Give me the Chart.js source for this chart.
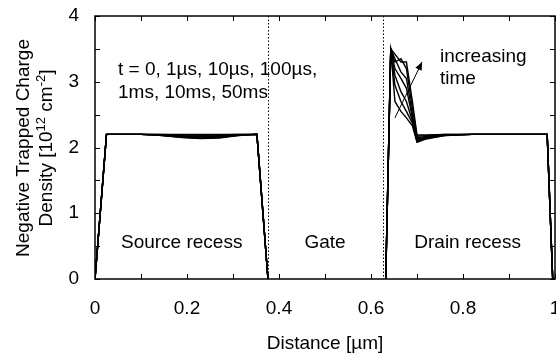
<!DOCTYPE html>
<html>
<head>
<meta charset="utf-8">
<script src="https://cdn.jsdelivr.net/npm/chart.js@4"></script>
<style>
  html, body { margin: 0; padding: 0; background: #fff; }
  #wrap { width: 556px; height: 358px; }
</style>
</head>
<body>
<div id="wrap"><canvas id="trapChart" width="556" height="358"></canvas></div>
<script>
// times of the seven curves (t = 0 ... 50ms)
const timeLabels = ["0", "1µs", "10µs", "100µs", "1ms", "10ms", "50ms"];

// source recess region
const sourceX = [0, 0.025, 0.10, 0.14, 0.19, 0.23, 0.27, 0.31, 0.352, 0.376];
const sourceY = [
  [0, 2.2, 2.2, 2.2,   2.2,   2.2,   2.2,   2.2,   2.2, 0],
  [0, 2.2, 2.2, 2.2,   2.19,  2.185, 2.19,  2.2,   2.2, 0],
  [0, 2.2, 2.2, 2.195, 2.18,  2.17,  2.18,  2.195, 2.2, 0],
  [0, 2.2, 2.2, 2.19,  2.17,  2.16,  2.17,  2.19,  2.2, 0],
  [0, 2.2, 2.2, 2.19,  2.16,  2.15,  2.16,  2.185, 2.2, 0],
  [0, 2.2, 2.2, 2.185, 2.155, 2.14,  2.15,  2.18,  2.2, 0],
  [0, 2.2, 2.2, 2.185, 2.15,  2.135, 2.145, 2.18,  2.2, 0]
];

// drain recess region
const drainX = [0.632, 0.643, 0.652, 0.665, 0.677, 0.69, 0.70, 0.72, 0.76, 0.82, 0.983, 0.995];
const drainY = [
  [0, 3.5, 2.7,  2.55, 2.45, 2.33, 2.08, 2.13, 2.18, 2.2, 2.2, 0],
  [0, 3.5, 2.95, 2.7,  2.55, 2.37, 2.09, 2.14, 2.18, 2.2, 2.2, 0],
  [0, 3.5, 3.1,  2.85, 2.7,  2.4,  2.11, 2.15, 2.19, 2.2, 2.2, 0],
  [0, 3.5, 3.2,  3.05, 2.9,  2.45, 2.13, 2.16, 2.19, 2.2, 2.2, 0],
  [0, 3.5, 3.35, 3.15, 3.05, 2.5,  2.15, 2.17, 2.19, 2.2, 2.2, 0],
  [0, 3.5, 3.3,  3.35, 3.2,  2.6,  2.17, 2.18, 2.2,  2.2, 2.2, 0],
  [0, 3.5, 3.42, 3.3,  3.3,  2.7,  2.19, 2.19, 2.2,  2.2, 2.2, 0]
];

const gateEdges = [0.375, 0.625];
const xTicks = [0, 0.2, 0.4, 0.6, 0.8, 1];
const yTicks = [0, 1, 2, 3, 4];

const FONT = "'Liberation Sans', Arial, Helvetica, sans-serif";

function pts(xs, ys) {
  return xs.map((x, i) => ({ x: x, y: ys[i] }));
}

const datasets = [];
timeLabels.forEach((t, i) => {
  datasets.push({ label: "source " + t, data: pts(sourceX, sourceY[i]) });
  datasets.push({ label: "drain " + t, data: pts(drainX, drainY[i]) });
});
datasets.forEach(d => {
  d.borderColor = "#000";
  d.borderWidth = 1.4;
  d.pointRadius = 0;
  d.tension = 0;
  d.fill = false;
});

// frame, inward ticks, dotted gate lines, labels and arrow
const decorations = {
  id: "decorations",
  afterDatasetsDraw(chart) {
    const ctx = chart.ctx;
    const xs = chart.scales.x, ys = chart.scales.y;
    const a = chart.chartArea;
    ctx.save();

    // gate edges
    ctx.strokeStyle = "#000";
    ctx.lineWidth = 1;
    ctx.setLineDash([1.5, 2]);
    gateEdges.forEach(g => {
      const px = Math.round(xs.getPixelForValue(g)) + 0.5;
      ctx.beginPath();
      ctx.moveTo(px, a.top);
      ctx.lineTo(px, a.bottom);
      ctx.stroke();
    });
    ctx.setLineDash([]);

    // inward ticks
    ctx.lineWidth = 1;
    const tl = 5;
    for (let v = 0; v <= 1.0001; v += 0.1) {
      const px = Math.round(xs.getPixelForValue(v)) + 0.5;
      ctx.beginPath();
      ctx.moveTo(px, a.bottom); ctx.lineTo(px, a.bottom - tl);
      ctx.moveTo(px, a.top); ctx.lineTo(px, a.top + tl);
      ctx.stroke();
    }
    for (let v = 0; v <= 4.0001; v += 0.5) {
      const py = Math.round(ys.getPixelForValue(v)) + 0.5;
      ctx.beginPath();
      ctx.moveTo(a.left, py); ctx.lineTo(a.left + tl, py);
      ctx.moveTo(a.right, py); ctx.lineTo(a.right - tl, py);
      ctx.stroke();
    }

    // frame
    ctx.lineWidth = 1.5;
    ctx.strokeRect(a.left, a.top, a.right - a.left, a.bottom - a.top);

    // text inside plot
    ctx.fillStyle = "#000";
    ctx.font = "19px " + FONT;
    ctx.textBaseline = "alphabetic";
    ctx.textAlign = "left";
    ctx.fillText("t = 0, 1µs, 10µs, 100µs,", 118, 75);
    ctx.fillText("1ms, 10ms, 50ms", 118, 98);
    ctx.fillText("increasing", 440, 62);
    ctx.fillText("time", 440, 84);

    ctx.textAlign = "center";
    const ly = ys.getPixelForValue(0.47);
    ctx.fillText("Source recess", xs.getPixelForValue(0.1885), ly);
    ctx.fillText("Gate", xs.getPixelForValue(0.5), ly);
    ctx.fillText("Drain recess", xs.getPixelForValue(0.81), ly);

    // arrow
    const x0 = xs.getPixelForValue(0.652), y0 = ys.getPixelForValue(2.45);
    const x1 = xs.getPixelForValue(0.711), y1 = ys.getPixelForValue(3.3);
    ctx.lineWidth = 1;
    ctx.beginPath();
    ctx.moveTo(x0, y0); ctx.lineTo(x1, y1);
    ctx.stroke();
    const ang = Math.atan2(y1 - y0, x1 - x0);
    const hl = 8, hw = 3.5;
    ctx.beginPath();
    ctx.moveTo(x1, y1);
    ctx.lineTo(x1 - hl * Math.cos(ang) + hw * Math.sin(ang), y1 - hl * Math.sin(ang) - hw * Math.cos(ang));
    ctx.lineTo(x1 - hl * Math.cos(ang) - hw * Math.sin(ang), y1 - hl * Math.sin(ang) + hw * Math.cos(ang));
    ctx.closePath();
    ctx.fill();

    // y axis title with superscripts
    ctx.rotate(-Math.PI / 2);
    ctx.textAlign = "center";
    ctx.font = "19px " + FONT;
    const cy = 148;
    ctx.fillText("Negative Trapped Charge", -cy, 29);
    const parts = [
      ["Density [10", false], ["12", true], [" cm", false], ["-2", true], ["]", false]
    ];
    const big = "19px " + FONT, small = "13px " + FONT;
    let total = 0;
    parts.forEach(p => { ctx.font = p[1] ? small : big; total += ctx.measureText(p[0]).width; });
    let cx = -cy - total / 2;
    ctx.textAlign = "left";
    parts.forEach(p => {
      ctx.font = p[1] ? small : big;
      ctx.fillText(p[0], cx, p[1] ? 45 : 52);
      cx += ctx.measureText(p[0]).width;
    });

    ctx.restore();
  }
};

const ctx = document.getElementById("trapChart").getContext("2d");
const trapChart = new Chart(ctx, {
  type: "line",
  data: { datasets: datasets },
  options: {
    responsive: false,
    animation: false,
    layout: { autoPadding: false, padding: { left: 0, top: 16, right: 1, bottom: 0 } },
    plugins: { legend: { display: false }, tooltip: { enabled: false } },
    scales: {
      x: {
        type: "linear",
        min: 0,
        max: 1,
        afterFit(scale) {
          scale.height = 79;
          scale.paddingLeft = 0;
          scale.paddingRight = 0;
        },
        afterBuildTicks(scale) { scale.ticks = xTicks.map(v => ({ value: v })); },
        ticks: {
          color: "#000",
          font: { family: FONT, size: 19 },
          padding: 18,
          maxRotation: 0,
          autoSkip: false,
          callback: v => String(v)
        },
        grid: { display: false, drawTicks: false },
        border: { display: false },
        title: {
          display: true,
          text: "Distance [µm]",
          color: "#000",
          font: { family: FONT, size: 19 },
          padding: { top: 0, bottom: 3 }
        }
      },
      y: {
        type: "linear",
        min: 0,
        max: 4,
        afterFit(scale) {
          scale.width = 95;
          scale.paddingTop = 0;
          scale.paddingBottom = 0;
        },
        afterBuildTicks(scale) { scale.ticks = yTicks.map(v => ({ value: v })); },
        ticks: {
          color: "#000",
          font: { family: FONT, size: 19 },
          padding: 16,
          autoSkip: false
        },
        grid: { display: false, drawTicks: false },
        border: { display: false }
      }
    }
  },
  plugins: [decorations]
});
</script>
</body>
</html>
